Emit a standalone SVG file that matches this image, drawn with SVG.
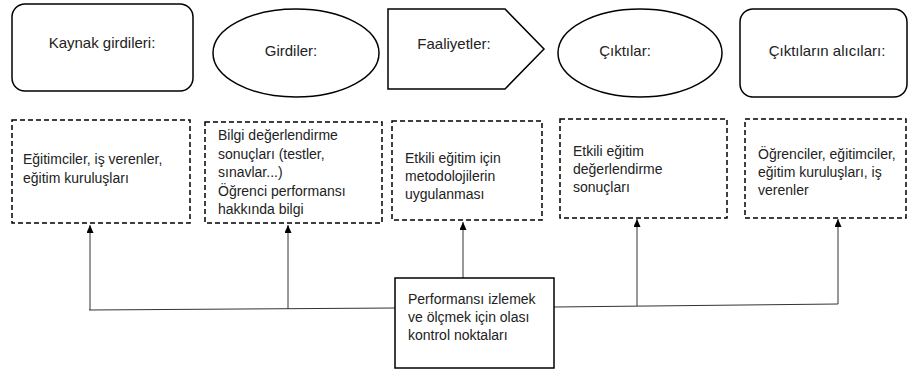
<svg xmlns="http://www.w3.org/2000/svg" width="912" height="372" viewBox="0 0 912 372">
<defs>
<marker id="arr" markerUnits="userSpaceOnUse" markerWidth="8" markerHeight="7" viewBox="0 0 8 7" refX="8" refY="3.5" orient="auto">
<path d="M0,0 L8,3.5 L0,7 z" fill="#000"/>
</marker>
<style>
.top{fill:#fff;stroke:#000;stroke-width:1.5}
.dash{fill:#fff;stroke:#000;stroke-width:1.5;stroke-dasharray:5 3}
.solid{fill:#fff;stroke:#000;stroke-width:1.5}
.tl{font-family:"Liberation Sans",Arial,sans-serif;font-size:15px;fill:#222;text-anchor:middle}
.bt{font-family:"Liberation Sans",Arial,sans-serif;font-size:14px;fill:#222}
.con{fill:none;stroke:#333;stroke-width:1}
</style>
</defs>
<rect width="912" height="372" fill="#fff"/>
<g id="kaynak">
<rect class="top" x="12" y="4" width="181" height="87" rx="13"/>
<text class="tl" x="102" y="48">Kaynak girdileri:</text>
</g>
<g id="girdiler">
<ellipse class="top" cx="296" cy="53" rx="83" ry="44"/>
<text class="tl" x="291" y="56">Girdiler:</text>
</g>
<g id="faaliyetler">
<polygon class="top" points="388,9 505,9 544,49 505,89 388,89"/>
<text class="tl" x="454" y="49">Faaliyetler:</text>
</g>
<g id="ciktilar">
<ellipse class="top" cx="640" cy="53" rx="82" ry="44"/>
<text class="tl" x="625" y="56">Çıktılar:</text>
</g>
<g id="alicilar">
<rect class="top" x="740" y="9" width="167" height="88" rx="13"/>
<text class="tl" x="827" y="56">Çıktıların alıcıları:</text>
</g>
<g id="box1">
<rect class="dash" x="12" y="120" width="178" height="103"/>
<text class="bt" x="23" y="164">Eğitimciler, iş verenler,</text>
<text class="bt" x="23" y="183">eğitim kuruluşları</text>
</g>
<g id="box2">
<rect class="dash" x="205" y="122" width="177" height="101"/>
<text class="bt" x="218" y="140">Bilgi değerlendirme</text>
<text class="bt" x="218" y="158.5">sonuçları (testler,</text>
<text class="bt" x="218" y="177">sınavlar...)</text>
<text class="bt" x="218" y="195.5">Öğrenci performansı</text>
<text class="bt" x="218" y="214">hakkında bilgi</text>
</g>
<g id="box3">
<rect class="dash" x="392" y="121" width="150" height="99"/>
<text class="bt" x="405" y="163">Etkili eğitim için</text>
<text class="bt" x="405" y="181">metodolojilerin</text>
<text class="bt" x="405" y="199">uygulanması</text>
</g>
<g id="box4">
<rect class="dash" x="560" y="119" width="167" height="99"/>
<text class="bt" x="573" y="156">Etkili eğitim</text>
<text class="bt" x="573" y="174">değerlendirme</text>
<text class="bt" x="573" y="192">sonuçları</text>
</g>
<g id="box5">
<rect class="dash" x="745" y="119" width="161" height="99"/>
<text class="bt" x="758" y="159">Öğrenciler, eğitimciler,</text>
<text class="bt" x="758" y="177">eğitim kuruluşları, iş</text>
<text class="bt" x="758" y="195">verenler</text>
</g>
<g id="connectors">
<path class="con" d="M89,310 L395,308"/>
<path class="con" d="M554,307 L838,304"/>
<path class="con" d="M90,310 V225" marker-end="url(#arr)"/>
<path class="con" d="M288,309 V225" marker-end="url(#arr)"/>
<path class="con" d="M463,278 V222" marker-end="url(#arr)"/>
<path class="con" d="M637,306 V219" marker-end="url(#arr)"/>
<path class="con" d="M838,304 V219" marker-end="url(#arr)"/>
</g>
<g id="control">
<rect class="solid" x="395" y="278" width="159" height="90"/>
<text class="bt" x="408" y="304">Performansı izlemek</text>
<text class="bt" x="408" y="322">ve ölçmek için olası</text>
<text class="bt" x="408" y="340">kontrol noktaları</text>
</g>
</svg>
